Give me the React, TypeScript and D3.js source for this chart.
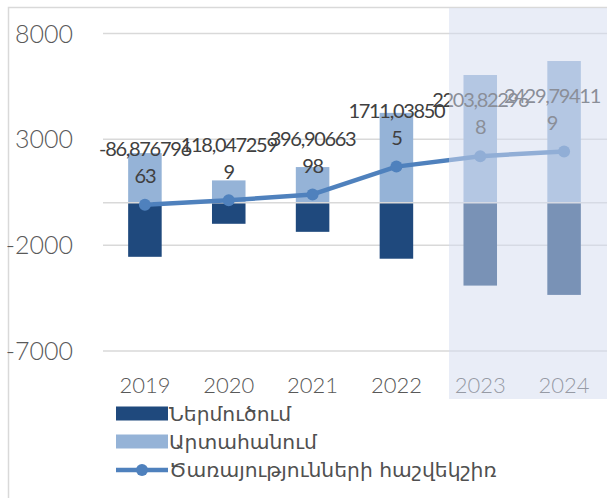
import React from "react";
import * as d3 from "d3";

const years = ["2019", "2020", "2021", "2022", "2023", "2024"];
const imports = [-2550, -990, -1370, -2640, -3910, -4350];
const exportsV = [2350, 1060, 1690, 4250, 6040, 6700];
const balance = [-86.87679663, 118.0472599, 396.9066398, 1711.038505, 2203.822968, 2429.794119];
const labelBreak = [10, 10, 9, 10, 10, 10];
const yTicks = [8000, 3000, -2000, -7000];
const legendNames = ["Ներմուծում", "Արտահանում", "Ծառայությունների հաշվեկշիռ"];

const W = 607;
const H = 498;
const cImp = "#1f497d";
const cExp = "#95b3d7";
const cLine = "#4f81bd";
const grid = "#d9d9d9";

export default function App() {
  const plotRight = 606;
  const x = d3.scaleBand<string>().domain(years).range([103, plotRight]).paddingInner(0.6).paddingOuter(0.3);
  const y = d3.scaleLinear().domain([-7000, 8000]).range([351, 33.5]);
  const bw = x.bandwidth();
  const cx = (i: number) => (x(years[i]) as number) + bw / 2;
  const line = d3
    .line<number>()
    .x((_, i) => cx(i))
    .y((d) => y(d));

  const fmt = (v: number) => String(v).replace(".", ",");

  return (
    <svg width={W} height={H} style={{ position: "absolute", left: 0, top: 0 }}>
      <rect x={0} y={0} width={W} height={H} fill="#fff" />
      <rect x={8.5} y={7.5} width={700} height={600} fill="none" stroke={grid} strokeWidth={1.5} />
      {yTicks.map((t) => (
        <g key={t}>
          <line x1={103} x2={607} y1={y(t)} y2={y(t)} stroke={grid} strokeWidth={1.5} />
          <text
            x={73}
            y={y(t)}
            dy="0.36em"
            textAnchor="end"
            fontFamily="Lato, sans-serif"
            fontWeight={300}
            fontSize={25}
            fill="#595959"
          >
            {t}
          </text>
        </g>
      ))}
      {years.map((yr, i) => (
        <g key={yr}>
          <rect x={x(yr)} y={y(exportsV[i])} width={bw} height={y(0) - y(exportsV[i])} fill={cExp} />
          <rect x={x(yr)} y={y(0)} width={bw} height={y(imports[i]) - y(0)} fill={cImp} />
        </g>
      ))}
      <line x1={103} x2={607} y1={y(0)} y2={y(0)} stroke={grid} strokeWidth={1.5} />
      <path d={line(balance) || ""} fill="none" stroke={cLine} strokeWidth={4.5} strokeLinejoin="round" />
      {balance.map((v, i) => (
        <circle key={i} cx={cx(i)} cy={y(v)} r={6} fill={cLine} />
      ))}
      {balance.map((v, i) => {
        const s = fmt(v);
        const l1 = s.slice(0, labelBreak[i]);
        const l2 = s.slice(labelBreak[i]);
        const lx = Math.min(cx(i), plotRight - 54);
        return (
          <g key={"l" + i} fontFamily="Lato, sans-serif" fontSize={20} fill="#404040" textAnchor="middle" letterSpacing={-1.3}>
            <text x={lx} y={y(v) - 56} dy="0.36em">
              {l1}
            </text>
            <text x={lx} y={y(v) - 29} dy="0.36em">
              {l2}
            </text>
          </g>
        );
      })}
      {years.map((yr, i) => (
        <text
          key={"x" + yr}
          x={cx(i)}
          y={385}
          dy="0.36em"
          textAnchor="middle"
          fontFamily="Lato, sans-serif"
          fontWeight={300}
          fontSize={22}
          fill="#595959"
        >
          {yr}
        </text>
      ))}
      <rect x={449} y={8} width={W - 449} height={391} fill="rgb(211,219,239)" fillOpacity={0.5} />
      <g fontFamily="'DejaVu Sans', sans-serif" fontSize={20.3} fill="#505050">
        <rect x={116} y={406.5} width={52} height={14} fill={cImp} />
        <text x={169} y={413.5} dy="0.36em">{legendNames[0]}</text>
        <rect x={116} y={434.5} width={52} height={14} fill={cExp} />
        <text x={169} y={441.5} dy="0.36em">{legendNames[1]}</text>
        <line x1={116} x2={168} y1={470} y2={470} stroke={cLine} strokeWidth={4.5} />
        <circle cx={142} cy={470} r={6} fill={cLine} />
        <text x={169} y={470} dy="0.36em">{legendNames[2]}</text>
      </g>
    </svg>
  );
}
